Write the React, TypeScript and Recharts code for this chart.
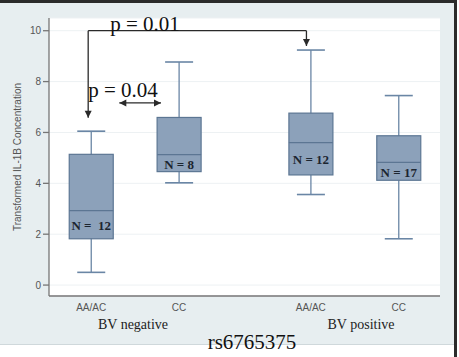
import {
  ComposedChart,
  Bar,
  XAxis,
  YAxis,
  CartesianGrid,
  ReferenceLine,
  ReferenceDot,
} from "recharts";

// genotype groups along the x axis (two per BV status)
const genotypes = ["AA/AC", "CC", "AA/AC", "CC"];
const slots = [1, 2, 3.5, 4.5];

// box plot statistics for transformed IL-1B
const whiskerLow = [0.5, 4.02, 3.56, 1.82];
const quartile1 = [1.82, 4.46, 4.33, 4.12];
const medians = [2.93, 5.13, 5.6, 4.82];
const quartile3 = [5.14, 6.59, 6.76, 5.87];
const whiskerHigh = [6.05, 8.77, 9.24, 7.45];
const counts = ["N =  12", "N = 8", "N = 12", "N = 17"];

const yTicks = [0, 2, 4, 6, 8, 10];

const rows = slots.map((slot, i) => ({
  slot,
  label: genotypes[i],
  min: whiskerLow[i],
  q1: quartile1[i],
  median: medians[i],
  q3: quartile3[i],
  max: whiskerHigh[i],
  n: counts[i],
}));

// significance brackets, in data coordinates
const wideBracket = { from: 0.966, to: 3.45, top: 10, leftTip: 6.58, rightTip: 9.4 };
const narrowArrow = { from: 1.32, to: 1.795, y: 7.16 };

const SERIF = "'Liberation Serif', 'Times New Roman', serif";
const SANS = "'Liberation Sans', Arial, sans-serif";
const INK = "#2a2a2a";
const AXIS = "#767676";

function BoxShape(props: any) {
  const { x, y, width, height, payload } = props;
  const { min, max, q1, median, q3, n } = payload;
  const unit = height / (max - min);
  const py = (v: number) => y + (max - v) * unit;
  const cx = x + width / 2;
  const cap = 14;
  const edge = "#5c7693";
  return (
    <g>
      <line x1={cx} x2={cx} y1={py(max)} y2={py(min)} stroke="#6a86a5" strokeWidth={1.3} />
      <line x1={cx - cap} x2={cx + cap} y1={py(max)} y2={py(max)} stroke="#6a86a5" strokeWidth={1.6} />
      <line x1={cx - cap} x2={cx + cap} y1={py(min)} y2={py(min)} stroke="#6a86a5" strokeWidth={1.6} />
      <rect
        x={x}
        y={py(q3)}
        width={width}
        height={py(q1) - py(q3)}
        fill="#8ca1ba"
        stroke={edge}
        strokeWidth={1.2}
      />
      <line x1={x} x2={x + width} y1={py(median)} y2={py(median)} stroke={edge} strokeWidth={1.3} />
      <text
        x={cx}
        y={(py(median) + py(q1)) / 2 + 1}
        textAnchor="middle"
        dominantBaseline="central"
        fontFamily={SERIF}
        fontWeight="bold"
        fontSize={13}
        fill="#1c2530"
        style={{ whiteSpace: "pre" }}
      >
        {n}
      </text>
    </g>
  );
}

const arrowHead = (dir: "down" | "left" | "right") => (p: any) => {
  const { cx, cy } = p;
  const s = 3.5;
  const L = 7;
  let pts = "";
  if (dir === "down") pts = `${cx - s},${cy - L} ${cx + s},${cy - L} ${cx},${cy}`;
  if (dir === "left") pts = `${cx + L},${cy - s} ${cx + L},${cy + s} ${cx},${cy}`;
  if (dir === "right") pts = `${cx - L},${cy - s} ${cx - L},${cy + s} ${cx},${cy}`;
  return <polygon points={pts} fill={INK} />;
};

const pText = (value: string) => (p: any) => (
  <text x={p.cx} y={p.cy} fontFamily={SERIF} fontSize={21} fill="#111">
    {value}
  </text>
);

export default function App() {
  return (
    <div
      style={{
        position: "absolute",
        left: 0,
        top: 0,
        width: 459,
        height: 357,
        background: "#fff",
        overflow: "hidden",
      }}
    >
      <div
        style={{
          position: "absolute",
          left: 0,
          top: 0,
          width: 454,
          height: 345,
          background: "#e7eef0",
          borderBottom: "1px solid #cfd8db",
          boxSizing: "border-box",
        }}
      />
      <div style={{ position: "absolute", left: 0, top: 0, width: 457, height: 3, background: "#2b2b2b" }} />
      <div style={{ position: "absolute", left: 454, top: 0, width: 3, height: 357, background: "#2b2b2b" }} />

      <div style={{ position: "absolute", left: 0, top: 0 }}>
        <ComposedChart
          width={459}
          height={357}
          data={rows}
          margin={{ top: 18, right: 19, bottom: 31, left: 0 }}
        >
          <CartesianGrid vertical={false} stroke="#edf1f3" fill="#ffffff" />
          <XAxis
            dataKey="slot"
            type="number"
            domain={[0.52, 4.97]}
            allowDataOverflow
            ticks={slots}
            tickFormatter={(v: number) => genotypes[slots.indexOf(v)] ?? ""}
            tickLine={false}
            height={30}
            stroke={AXIS}
            strokeWidth={1.3}
            tick={{ fill: "#555", fontSize: 10, fontFamily: SANS }}
          />
          <YAxis
            type="number"
            domain={[-0.43, 10.5]}
            allowDataOverflow
            ticks={yTicks}
            width={49}
            stroke={AXIS}
            strokeWidth={1.3}
            tick={{ fill: "#555", fontSize: 10, fontFamily: SANS }}
          />
          <Bar
            dataKey={(d: any) => [d.min, d.max]}
            barSize={44}
            shape={BoxShape}
            isAnimationActive={false}
          />
          <ReferenceLine
            segment={[
              { x: wideBracket.from, y: wideBracket.top },
              { x: wideBracket.to, y: wideBracket.top },
            ]}
            stroke={INK}
            strokeWidth={1.3}
          />
          <ReferenceLine
            segment={[
              { x: wideBracket.from, y: wideBracket.top },
              { x: wideBracket.from, y: wideBracket.leftTip },
            ]}
            stroke={INK}
            strokeWidth={1.3}
          />
          <ReferenceLine
            segment={[
              { x: wideBracket.to, y: wideBracket.top },
              { x: wideBracket.to, y: wideBracket.rightTip },
            ]}
            stroke={INK}
            strokeWidth={1.3}
          />
          <ReferenceLine
            segment={[
              { x: narrowArrow.from, y: narrowArrow.y },
              { x: narrowArrow.to, y: narrowArrow.y },
            ]}
            stroke={INK}
            strokeWidth={1.3}
          />
          <ReferenceDot x={wideBracket.from} y={wideBracket.leftTip} shape={arrowHead("down")} />
          <ReferenceDot x={wideBracket.to} y={wideBracket.rightTip} shape={arrowHead("down")} />
          <ReferenceDot x={narrowArrow.from} y={narrowArrow.y} shape={arrowHead("left")} />
          <ReferenceDot x={narrowArrow.to} y={narrowArrow.y} shape={arrowHead("right")} />
          <ReferenceDot x={1.216} y={10} shape={pText("p = 0.01")} />
          <ReferenceDot x={0.966} y={7.39} shape={pText("p = 0.04")} />
        </ComposedChart>
      </div>

      <div
        style={{
          position: "absolute",
          left: 17,
          top: 157,
          transform: "translate(-50%, -50%) rotate(-90deg)",
          whiteSpace: "nowrap",
          fontFamily: SANS,
          fontSize: 10,
          color: "#555",
        }}
      >
        Transformed IL-1B Concentration
      </div>
      <div
        style={{
          position: "absolute",
          left: 133,
          top: 317,
          transform: "translateX(-50%)",
          fontFamily: SERIF,
          fontSize: 14,
          color: "#222",
          whiteSpace: "nowrap",
        }}
      >
        BV negative
      </div>
      <div
        style={{
          position: "absolute",
          left: 361,
          top: 317,
          transform: "translateX(-50%)",
          fontFamily: SERIF,
          fontSize: 14,
          color: "#222",
          whiteSpace: "nowrap",
        }}
      >
        BV positive
      </div>
      <div
        style={{
          position: "absolute",
          left: 252,
          top: 330,
          transform: "translateX(-50%)",
          fontFamily: SERIF,
          fontSize: 21,
          color: "#111",
          whiteSpace: "nowrap",
        }}
      >
        rs6765375
      </div>
    </div>
  );
}
